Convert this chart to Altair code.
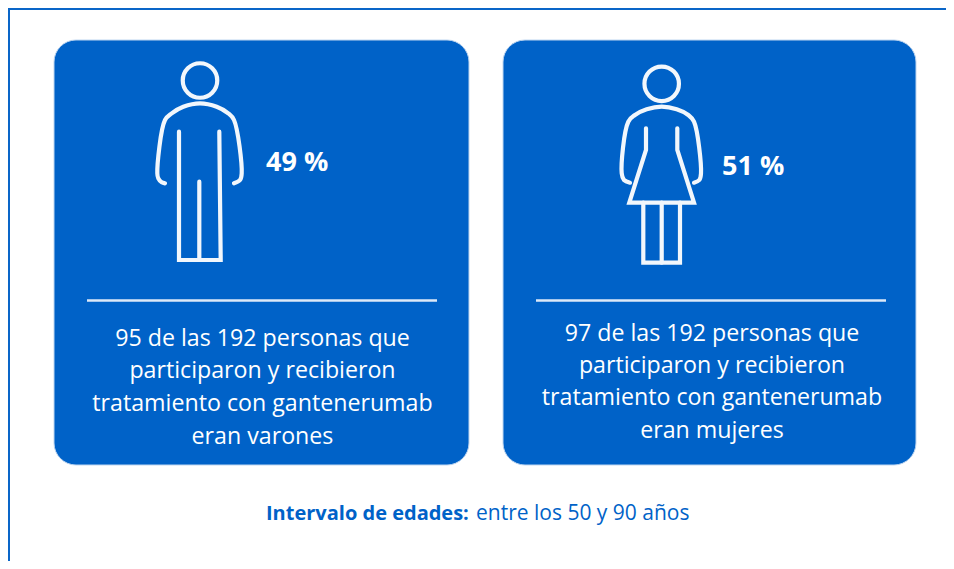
import altair as alt
import pandas as pd

BLUE = "#0062C8"
FONT = "Open Sans"

# cards
CARD_X0 = [54, 503]
CARD_X1 = [469, 916]
CARD_Y0 = [40, 40]
CARD_Y1 = [465, 465]

# separators
SEP_X0 = [87, 536]
SEP_X1 = [437, 886]
SEP_Y = [300.5, 300.5]

# icon outlines
MAN_ARMS_X = [165, 161.7, 158.3, 157.3, 165, 171.7, 183.3, 200, 216.7, 228.3, 234, 241.7, 240, 234]
MAN_ARMS_Y = [183.3, 182.3, 178.3, 173.3, 120, 113.3, 106.7, 103.3, 106.7, 113.3, 120, 173.3, 180, 183.3]
MAN_LEGS_X = [179, 179, 220.7, 219.3]
MAN_LEGS_Y = [131.7, 260, 260, 131.7]
MAN_MID_X = [199.3, 199.3]
MAN_MID_Y = [181.7, 260]

WOMAN_ARMS_X = [630, 624, 621.7, 628.3, 635, 646.7, 661.7, 676.7, 688.3, 694, 701, 699.3, 694]
WOMAN_ARMS_Y = [182.7, 180, 173.3, 121.7, 115, 109.3, 106.7, 109.3, 115, 121.7, 173.3, 180, 182.7]
WOMAN_DRESS_X = [646, 646, 629.3, 694, 677.3, 677.3]
WOMAN_DRESS_Y = [128.3, 150, 202.7, 202.7, 150, 128.3]
WOMAN_LEGS_X = [643.3, 643.3, 680, 680]
WOMAN_LEGS_Y = [202.7, 262.7, 262.7, 202.7]
WOMAN_MID_X = [661.7, 661.7]
WOMAN_MID_Y = [202.7, 262.7]

HEAD_X = [200, 661.7]
HEAD_Y = [80.5, 83.8]

# texts
PCT_TEXT = ["49 %", "51 %"]
PCT_X = [266, 722]
PCT_Y = [162.5, 166.5]

BODY_TEXT = [
    "95 de las 192 personas que", "participaron y recibieron",
    "tratamiento con gantenerumab", "eran varones",
    "97 de las 192 personas que", "participaron y recibieron",
    "tratamiento con gantenerumab", "eran mujeres",
]
BODY_X = [262.5, 262.5, 262.5, 262.5, 712, 712, 712, 712]
BODY_Y = [338.5, 370.5, 403.5, 436.5, 333.5, 365.5, 397.5, 430.5]

FOOT_TEXT = ["Intervalo de edades:", "entre los 50 y 90 años"]
FOOT_X = [266, 476]
FOOT_Y = [514, 514]

# frame
FRAME_LEFT_X = [9]
FRAME_LEFT_Y = [8]
FRAME_LEFT_Y2 = [561]
FRAME_TOP_X = [8]
FRAME_TOP_X2 = [946]
FRAME_TOP_Y = [9]

xs = alt.Scale(domain=[8, 946], nice=False, zero=False)
ys = alt.Scale(domain=[561, 8], nice=False, zero=False)
X = lambda f: alt.X(f, type="quantitative", scale=xs, axis=None)
Y = lambda f: alt.Y(f, type="quantitative", scale=ys, axis=None)


def frame_of(groups):
    rows = []
    for pid, (px, py) in enumerate(groups):
        for i, (a, b) in enumerate(zip(px, py)):
            rows.append({"pid": pid, "seq": i, "x": a, "y": b})
    return pd.DataFrame(rows)


curved = frame_of([(MAN_ARMS_X, MAN_ARMS_Y), (WOMAN_ARMS_X, WOMAN_ARMS_Y)])
straight = frame_of([
    (MAN_LEGS_X, MAN_LEGS_Y), (MAN_MID_X, MAN_MID_Y),
    (WOMAN_DRESS_X, WOMAN_DRESS_Y), (WOMAN_LEGS_X, WOMAN_LEGS_Y), (WOMAN_MID_X, WOMAN_MID_Y),
])

ICON = "#F2F7FC"
STROKE = 4.2

frame_v = alt.Chart(pd.DataFrame({"x": FRAME_LEFT_X, "y": FRAME_LEFT_Y, "y2": FRAME_LEFT_Y2})).mark_rule(
    color="#0A66C8", strokeWidth=2).encode(x=X("x"), y=Y("y"), y2="y2")
frame_h = alt.Chart(pd.DataFrame({"x": FRAME_TOP_X, "x2": FRAME_TOP_X2, "y": FRAME_TOP_Y})).mark_rule(
    color="#0A66C8", strokeWidth=2).encode(x=X("x"), x2="x2", y=Y("y"))

cards = alt.Chart(pd.DataFrame({"x": CARD_X0, "x2": CARD_X1, "y": CARD_Y0, "y2": CARD_Y1})).mark_rect(
    color=BLUE, cornerRadius=22, stroke="#BFD6F0", strokeWidth=1).encode(x=X("x"), x2="x2", y=Y("y"), y2="y2")

seps = alt.Chart(pd.DataFrame({"x": SEP_X0, "x2": SEP_X1, "y": SEP_Y})).mark_rule(
    color="#DCE9F8", strokeWidth=2.5).encode(x=X("x"), x2="x2", y=Y("y"))

arms = alt.Chart(curved).mark_line(
    color=ICON, strokeWidth=STROKE, strokeCap="round", strokeJoin="round", interpolate="catmull-rom").encode(
    x=X("x"), y=Y("y"), detail="pid:N", order="seq:Q")

icons = alt.Chart(straight).mark_line(
    color=ICON, strokeWidth=STROKE, strokeCap="round", strokeJoin="miter").encode(
    x=X("x"), y=Y("y"), detail="pid:N", order="seq:Q")

heads = alt.Chart(pd.DataFrame({"x": HEAD_X, "y": HEAD_Y})).mark_point(
    shape="circle", filled=False, color=ICON, strokeWidth=STROKE, size=1190, opacity=1).encode(x=X("x"), y=Y("y"))

pct = alt.Chart(pd.DataFrame({"x": PCT_X, "y": PCT_Y, "t": PCT_TEXT})).mark_text(
    font=FONT, fontSize=27, fontWeight="bold", color="white", align="left", baseline="middle").encode(
    x=X("x"), y=Y("y"), text="t:N")

body = alt.Chart(pd.DataFrame({"x": BODY_X, "y": BODY_Y, "t": BODY_TEXT})).mark_text(
    font=FONT, fontSize=23.2, color="white", align="center", baseline="middle").encode(
    x=X("x"), y=Y("y"), text="t:N")

foot_b = alt.Chart(pd.DataFrame({"x": FOOT_X[:1], "y": FOOT_Y[:1], "t": FOOT_TEXT[:1]})).mark_text(
    font=FONT, fontSize=20, fontWeight="bold", color=BLUE, align="left", baseline="middle").encode(
    x=X("x"), y=Y("y"), text="t:N")
foot_r = alt.Chart(pd.DataFrame({"x": FOOT_X[1:], "y": FOOT_Y[1:], "t": FOOT_TEXT[1:]})).mark_text(
    font=FONT, fontSize=21, color=BLUE, align="left", baseline="middle").encode(
    x=X("x"), y=Y("y"), text="t:N")

chart = alt.layer(frame_v, frame_h, cards, seps, arms, icons, heads, pct, body, foot_b, foot_r).properties(
    width=938, height=553, padding=0, background="white",
    autosize=alt.AutoSizeParams(type="none", contains="padding")
).configure_view(stroke=None)

chart.save("out.html", embed_options={"renderer": "svg", "actions": False})
